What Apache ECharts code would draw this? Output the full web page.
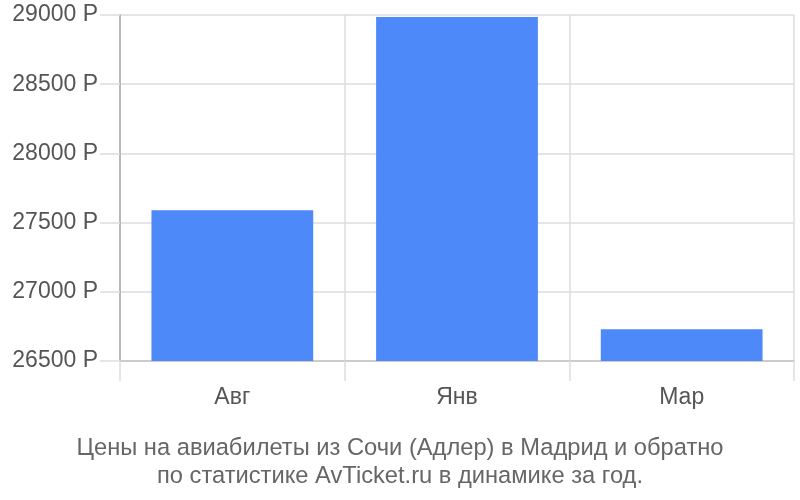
<!DOCTYPE html>
<html><head><meta charset="utf-8">
<script src="https://cdn.jsdelivr.net/npm/echarts@6/dist/echarts.min.js"></script>
<style>html,body{margin:0;padding:0;background:#fff}#c{width:800px;height:500px}</style>
</head><body><div id="c"></div>
<script>
var categories = ['Авг', 'Янв', 'Мар'];
var prices = [27590, 28985, 26730];
var yTicks = [26500, 27000, 27500, 28000, 28500, 29000];
var titleLines = ['Цены на авиабилеты из Сочи (Адлер) в Мадрид и обратно', 'по статистике AvTicket.ru в динамике за год.'];

var chart = echarts.init(document.getElementById('c'));
var font = 'Liberation Sans, Arial, sans-serif';
chart.setOption({
  animation: false,
  textStyle: {fontFamily: font},
  title: {
    text: titleLines.join('\n'), left: 'center', top: 429,
    textStyle: {fontSize: 23.7, fontWeight: 'normal', color: '#666', lineHeight: 28.5, fontFamily: font}
  },
  grid: {left: 120, right: 6, top: 15, bottom: 139},
  xAxis: {
    type: 'category', data: categories, boundaryGap: true,
    axisLine: {show: true, lineStyle: {color: '#ccc', width: 2}},
    axisTick: {show: true, length: 20, lineStyle: {color: '#ddd', width: 1.5}},
    splitLine: {show: true, lineStyle: {color: '#ddd', width: 1.5}},
    axisLabel: {fontSize: 23, color: '#555', margin: 25, fontFamily: font}
  },
  yAxis: {
    type: 'value', min: yTicks[0], max: yTicks[yTicks.length - 1], interval: 500,
    axisLine: {show: true, lineStyle: {color: '#aaa', width: 1.5}},
    axisTick: {show: true, length: 20, lineStyle: {color: '#ddd', width: 1.5}},
    splitLine: {show: true, lineStyle: {color: '#ddd', width: 1.5}},
    axisLabel: {fontSize: 23, color: '#555', margin: 22, fontFamily: font,
      formatter: function (v) { return String(v) + ' Р'; }}
  },
  series: [{
    type: 'bar', data: prices, barWidth: '72%',
    itemStyle: {color: '#4d89f9'}
  }]
});
</script></body></html>
